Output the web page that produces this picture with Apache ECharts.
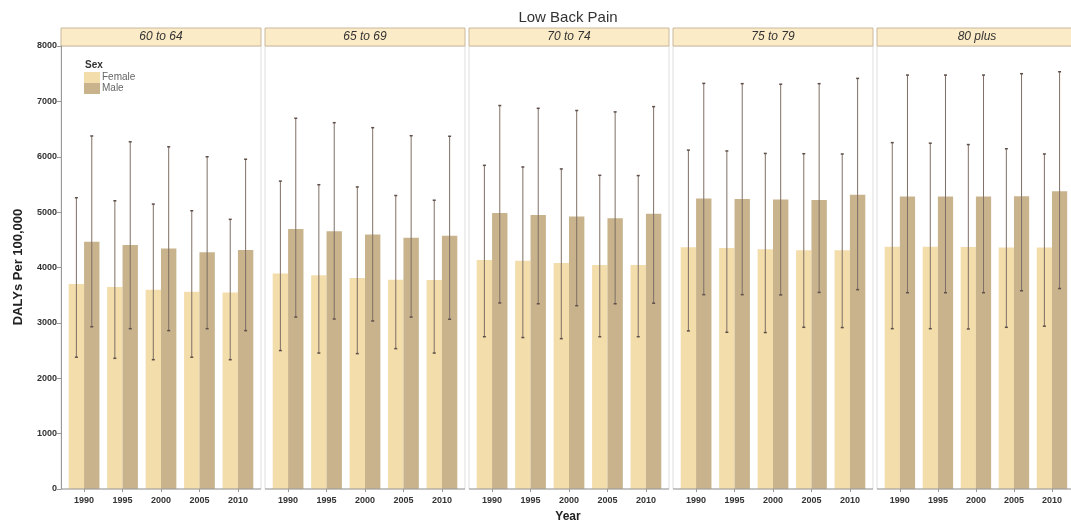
<!DOCTYPE html>
<html>
<head>
<meta charset="utf-8">
<script src="https://cdn.jsdelivr.net/npm/echarts@6/dist/echarts.min.js"></script>
<style>
  html, body { margin: 0; padding: 0; background: #fff; }
  #lbpChart { width: 1071px; height: 525px; }
</style>
</head>
<body>
<div id="lbpChart"></div>
<script>
// values (DALYs per 100,000), one row per age group
const years = ["1990", "1995", "2000", "2005", "2010"];
const ageGroups = ["60 to 64", "65 to 69", "70 to 74", "75 to 79", "80 plus"];

const femaleMean = [
  [3700, 3650, 3600, 3560, 3550],
  [3890, 3860, 3810, 3780, 3775],
  [4135, 4120, 4080, 4045, 4045],
  [4365, 4350, 4330, 4310, 4310],
  [4375, 4375, 4370, 4360, 4360]
];
const femaleLow = [
  [2380, 2360, 2335, 2380, 2335],
  [2500, 2455, 2445, 2535, 2455],
  [2750, 2735, 2715, 2750, 2750],
  [2855, 2830, 2825, 2920, 2915],
  [2895, 2895, 2890, 2920, 2940]
];
const femaleHigh = [
  [5260, 5205, 5145, 5025, 4870],
  [5560, 5495, 5455, 5300, 5215],
  [5845, 5815, 5780, 5665, 5660],
  [6120, 6105, 6060, 6055, 6050],
  [6255, 6245, 6220, 6145, 6050]
];
const maleMean = [
  [4465, 4405, 4345, 4275, 4315],
  [4695, 4655, 4595, 4535, 4575],
  [4985, 4950, 4920, 4890, 4970],
  [5245, 5235, 5230, 5220, 5315],
  [5280, 5280, 5280, 5285, 5375]
];
const maleLow = [
  [2930, 2895, 2860, 2895, 2860],
  [3105, 3070, 3035, 3105, 3065],
  [3360, 3345, 3310, 3345, 3355],
  [3510, 3510, 3505, 3550, 3600],
  [3545, 3545, 3545, 3580, 3620]
];
const maleHigh = [
  [6375, 6270, 6180, 6000, 5955],
  [6695, 6615, 6525, 6380, 6370],
  [6925, 6875, 6835, 6810, 6905],
  [7325, 7320, 7310, 7320, 7415],
  [7475, 7475, 7475, 7500, 7535]
];

const FONT = "'Liberation Sans', Arial, sans-serif";
const femaleColor = "#f3ddab";
const maleColor = "#c8b38d";
const errColor = "#7f6f66";

// facet layout (pixels)
const panelLeft = [61, 265, 469, 673, 877];
const panelW = 200;
const panelTop = 46;
const panelH = 443;
const inset = panelW / 52; // ggplot-style 0.6 band padding on a 5-band axis

let myChart = echarts.init(document.getElementById("lbpChart"));

// error bar drawn at the centre of its bar (female left half, male right half)
function errorBar(side) {
  return function (params, api) {
    const band = api.size([1, 0])[0];
    const dx = side * band * 0.2;
    const top = api.coord([api.value(0), api.value(2)]);
    const bot = api.coord([api.value(0), api.value(1)]);
    const x = top[0] + dx;
    const cap = 1.5;
    return {
      type: "group",
      children: [
        { type: "line", shape: { x1: x, y1: top[1], x2: x, y2: bot[1] },
          style: { stroke: errColor, lineWidth: 1 } },
        { type: "line", shape: { x1: x - cap, y1: top[1], x2: x + cap, y2: top[1] },
          style: { stroke: "#5e4f48", lineWidth: 1.5 } },
        { type: "line", shape: { x1: x - cap, y1: bot[1], x2: x + cap, y2: bot[1] },
          style: { stroke: "#5e4f48", lineWidth: 1.5 } }
      ]
    };
  };
}

let grids = [], xAxes = [], yAxes = [], series = [], graphics = [];

ageGroups.forEach((group, i) => {
  const left = panelLeft[i];
  grids.push({ left: left + inset, top: panelTop, width: panelW - 2 * inset, height: panelH });

  xAxes.push({
    type: "category", gridIndex: i, data: years,
    axisLine: { show: false },
    axisTick: { show: true, alignWithLabel: true, length: 3, lineStyle: { color: "#999" } },
    axisLabel: { fontFamily: FONT, fontSize: 9, fontWeight: "bold", color: "#333", margin: 7 }
  });

  yAxes.push({
    type: "value", gridIndex: i, min: 0, max: 8000, interval: 1000,
    offset: inset,
    splitLine: { show: false },
    axisLine: { show: i === 0, lineStyle: { color: "#999" } },
    axisTick: { show: i === 0, length: 4, lineStyle: { color: "#999" } },
    axisLabel: { show: i === 0, fontFamily: FONT, fontSize: 9, fontWeight: "bold", color: "#333",
                 margin: 4, formatter: (v) => String(v) }
  });

  series.push({
    name: "Female", type: "bar", xAxisIndex: i, yAxisIndex: i,
    data: femaleMean[i], itemStyle: { color: femaleColor },
    barGap: "0%", barCategoryGap: "20%"
  });
  series.push({
    name: "Male", type: "bar", xAxisIndex: i, yAxisIndex: i,
    data: maleMean[i], itemStyle: { color: maleColor },
    barGap: "0%", barCategoryGap: "20%"
  });
  series.push({
    name: "Female interval", type: "custom", xAxisIndex: i, yAxisIndex: i, z: 5,
    renderItem: errorBar(-1),
    data: years.map((y, j) => [j, femaleLow[i][j], femaleHigh[i][j]])
  });
  series.push({
    name: "Male interval", type: "custom", xAxisIndex: i, yAxisIndex: i, z: 5,
    renderItem: errorBar(1),
    data: years.map((y, j) => [j, maleLow[i][j], maleHigh[i][j]])
  });

  // panel frame, bottom axis line and the facet strip
  graphics.push({
    type: "rect", z: -1,
    shape: { x: left, y: panelTop, width: panelW, height: panelH },
    style: { fill: "#fff", stroke: "#dedede", lineWidth: 1 }
  });
  graphics.push({
    type: "line", z: 10,
    shape: { x1: left, y1: panelTop + panelH, x2: left + panelW, y2: panelTop + panelH },
    style: { stroke: "#999", lineWidth: 1 }
  });
  graphics.push({
    type: "rect",
    shape: { x: left, y: 28, width: panelW, height: 18 },
    style: { fill: "#fcebc7", stroke: "#c9b99c", lineWidth: 1 }
  });
  graphics.push({
    type: "text", x: left + panelW / 2, y: 37,
    style: { text: group, fontFamily: FONT, fontSize: 12, fontStyle: "italic",
             fill: "#333", align: "center", verticalAlign: "middle" }
  });
});

graphics.push({
  type: "text", x: 568, y: 18,
  style: { text: "Low Back Pain", fontFamily: FONT, fontSize: 15, fill: "#333",
           align: "center", verticalAlign: "middle" }
});
graphics.push({
  type: "text", x: 568, y: 517,
  style: { text: "Year", fontFamily: FONT, fontSize: 12, fontWeight: "bold", fill: "#222",
           align: "center", verticalAlign: "middle" }
});
graphics.push({
  type: "text", x: 18, y: 267, rotation: Math.PI / 2,
  style: { text: "DALYs Per 100,000", fontFamily: FONT, fontSize: 13, fontWeight: "bold", fill: "#222",
           align: "center", verticalAlign: "middle" }
});
graphics.push({
  type: "text", x: 85, y: 65, z: 20,
  style: { text: "Sex", fontFamily: FONT, fontSize: 10, fontWeight: "bold", fill: "#333",
           align: "left", verticalAlign: "middle" }
});

myChart.setOption({
  animation: false,
  backgroundColor: "#fff",
  grid: grids,
  xAxis: xAxes,
  yAxis: yAxes,
  legend: {
    data: ["Female", "Male"],
    orient: "vertical", left: 84, top: 72, padding: 0,
    itemWidth: 16, itemHeight: 11, itemGap: 0, icon: "rect",
    textStyle: { fontFamily: FONT, fontSize: 10, color: "#666", padding: [0, 0, 0, -3] }
  },
  graphic: graphics,
  series: series
});
</script>
</body>
</html>
